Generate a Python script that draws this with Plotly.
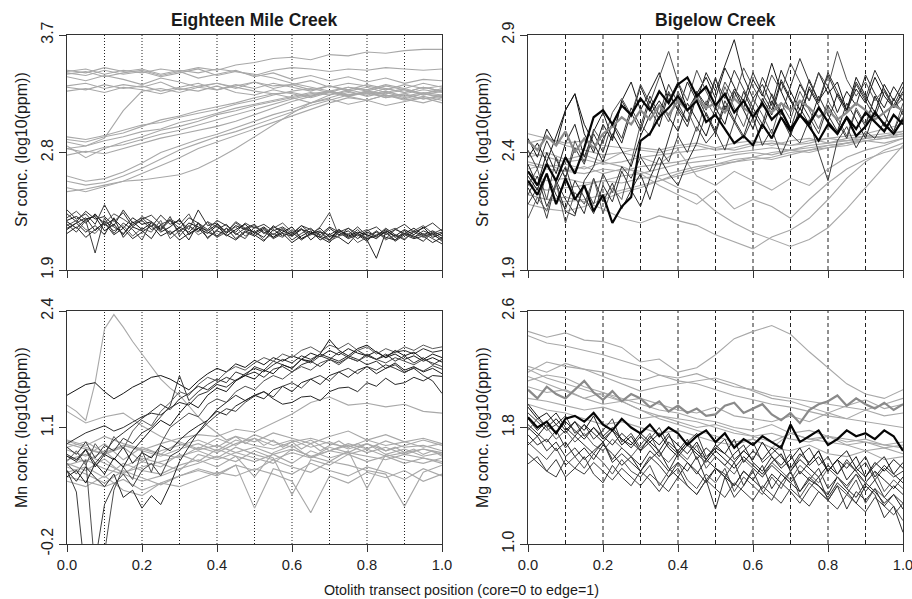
import plotly.graph_objects as go

# ---------------------------------------------------------------
# Data (values typed in hundredths of log10(ppm))
# ---------------------------------------------------------------
UNIT = 0.01

POS41 = [0.0, 0.025, 0.05, 0.075, 0.1, 0.125, 0.15, 0.175, 0.2, 0.225,
         0.25, 0.275, 0.3, 0.325, 0.35, 0.375, 0.4, 0.425, 0.45, 0.475,
         0.5, 0.525, 0.55, 0.575, 0.6, 0.625, 0.65, 0.675, 0.7, 0.725,
         0.75, 0.775, 0.8, 0.825, 0.85, 0.875, 0.9, 0.925, 0.95, 0.975, 1.0]
POS21 = [0.0, 0.05, 0.1, 0.15, 0.2, 0.25, 0.3, 0.35, 0.4, 0.45, 0.5,
         0.55, 0.6, 0.65, 0.7, 0.75, 0.8, 0.85, 0.9, 0.95, 1.0]

X_TICKS = [0.0, 0.2, 0.4, 0.6, 0.8, 1.0]
X_TICK_TEXT = ["0.0", "0.2", "0.4", "0.6", "0.8", "1.0"]
GRID_POS = [0.1, 0.2, 0.3, 0.4, 0.5, 0.6, 0.7, 0.8, 0.9]

PANEL_TITLES = ["Eighteen Mile Creek", "Bigelow Creek"]
Y_TITLES = ["Sr conc. (log10(ppm))", "Sr conc. (log10(ppm))",
            "Mn conc. (log10(ppm))", "Mg conc. (log10(ppm))"]
X_TITLE = "Otolith transect position (core=0 to edge=1)"

Y_TICKS_SR_EMC = [1.9, 2.8, 3.7]
Y_TICKS_SR_BIG = [1.9, 2.4, 2.9]
Y_TICKS_MN_EMC = [-0.2, 1.1, 2.4]
Y_TICKS_MG_BIG = [1.0, 1.8, 2.6]

# ---- Sr, Eighteen Mile Creek ----
SR_EMC_BLACK = [
    [228,231,226,233,224,229,222,230,225,227, 221,228,219,226,223,220,225,218,224,221, 219,223,217,222,216,221,219,215,222,217, 220,214,219,216,221,215,218,222,217,220, 216],
    [233,227,235,229,231,224,236,226,230,223, 232,225,228,221,236,224,226,219,227,222, 225,218,223,220,217,224,218,222,215,220, 217,223,216,219,214,221,218,215,220,217, 219],
    [221,226,219,224,217,230,215,223,220,214, 225,218,222,213,226,219,216,222,214,220, 217,212,221,216,219,213,218,215,211,219, 214,217,212,220,215,213,218,216,212,219, 214],
    [225,219,228,203,230,218,226,221,213,227, 220,231,216,224,219,227,215,222,218,214, 223,219,215,221,213,218,222,216,213,219, 215,221,214,217,219,213,220,215,218,214, 210],
    [230,235,228,232,226,233,229,224,231,227, 222,229,225,233,220,227,223,219,226,221, 224,218,222,226,219,221,217,223,234,216, 222,218,221,215,219,222,217,220,224,218, 221],
    [218,223,215,221,226,217,222,214,219,224, 216,220,213,218,222,215,220,217,213,219, 216,221,214,218,211,216,220,213,217,215, 210,218,213,199,219,212,217,214,216,211, 215],
    [236,229,233,225,240,227,234,223,229,232, 225,228,222,230,226,221,228,224,219,226, 222,225,220,223,218,224,221,217,223,219, 222,216,220,223,217,221,225,219,222,226, 220],
    [224,228,221,218,226,220,224,216,222,219, 228,214,220,224,217,221,215,219,223,216, 220,213,218,215,221,214,217,219,212,216, 218,211,215,220,213,217,214,219,215,217, 213],
    [227,222,229,231,220,225,217,227,221,226, 219,223,229,217,222,218,224,216,221,225, 218,222,215,219,223,214,218,220,213,221, 216,219,217,214,220,216,221,217,223,215, 218],
    [222,226,230,220,227,223,218,225,228,221, 224,217,223,219,226,214,221,225,217,222, 219,215,224,218,216,222,213,219,217,221, 215,218,214,216,222,217,213,220,216,218, 212],
]
SR_EMC_GRAY = [
    [342,344,340,343,341,344,342,345,343,347, 349,352,353,351,355,354,357,356,358,359, 359],
    [343,341,345,342,344,340,343,341,344,342, 339,343,345,344,342,344,343,345,344,343, 344],
    [340,342,338,341,343,339,342,337,340,343, 338,341,336,339,335,338,334,337,333,336, 335],
    [338,335,339,336,332,337,334,330,333,329, 334,331,332,328,331,327,330,326,329,325, 328],
    [330,328,332,329,331,327,330,333,328,331, 334,329,332,335,330,333,331,328,332,329, 331],
    [327,329,326,330,328,325,329,327,331,326, 324,328,325,322,326,323,320,324,321,318, 322],
    [331,333,329,332,330,334,328,331,333,330, 327,325,322,318,321,317,320,316,319,322, 318],
    [341,339,343,340,342,338,341,344,339,342, 340,337,333,330,327,324,326,323,325,321, 324],
    [290,288,292,295,300,305,308,312,315,318, 322,325,326,323,327,324,326,322,325,328, 326],
    [288,285,289,292,296,298,303,306,310,314, 317,320,323,326,324,328,325,329,326,330, 327],
    [285,276,283,288,292,297,300,304,309,312, 316,319,322,325,327,323,326,322,324,321, 323],
    [292,290,293,297,301,303,307,310,313,317, 320,324,327,329,326,330,327,331,328,325, 329],
    [283,280,284,286,290,294,297,301,305,309, 313,317,321,324,326,323,327,324,320,323, 320],
    [283,285,291,312,327,329,326,330,328,332, 329,333,330,327,331,328,332,329,326,330, 327],
    [262,258,260,265,272,280,285,290,294,299, 304,309,313,318,322,326,324,327,323,326, 324],
    [258,255,257,262,268,275,282,287,292,296, 301,306,311,316,320,324,327,325,328,324, 327],
    [253,250,254,258,264,270,276,283,288,293, 298,303,308,313,318,322,320,324,321,325, 322],
    [250,252,255,258,259,261,263,268,275,283, 292,301,310,318,324,327,323,326,322,325, 323],
    [278,281,279,283,287,291,294,297,300,304, 309,314,319,323,327,330,328,332,329,333, 330],
]

# ---- Sr, Bigelow Creek ----
SR_BIG_GRAY = [
    [244,246,243,241,239,240,242,241,243,244, 242,244,245,243,245,246,244,246,247,246, 248],
    [240,238,236,237,235,236,238,239,240,241, 242,241,243,244,243,245,246,245,247,248, 249],
    [235,233,232,231,233,232,234,235,236,238, 239,240,241,242,241,243,244,245,246,247, 248],
    [231,228,229,227,228,230,231,233,235,236, 237,239,240,239,241,242,243,244,245,244, 246],
    [226,224,225,226,228,227,229,230,232,234, 235,237,238,240,241,240,242,243,245,246, 247],
    [222,220,219,220,222,224,226,228,231,233, 235,236,238,237,239,241,242,244,245,246, 247],
    [248,246,244,245,243,242,241,240,242,243, 241,242,244,245,243,244,246,247,248,250, 252],
    [218,216,215,217,220,223,225,228,230,232, 234,236,237,238,240,241,243,244,246,247, 249],
    [233,235,232,234,231,233,232,229,225,222, 215,210,206,203,200,203,208,216,225,234, 243],
    [222,220,221,219,216,212,210,213,211,209, 205,202,199,204,207,212,220,229,236,241, 244],
    [236,234,235,233,236,234,231,226,222,218, 224,216,220,217,212,220,227,233,237,240, 242],
    [238,240,237,239,236,240,238,235,241,230, 226,232,228,224,229,226,233,238,241,243, 246],
]
SR_BIG_BLACK = [
    [238,244,236,247,258,265,248,240,252,245, 262,270,258,266,274,262,270,258,265,272, 263,276,268,259,271,264,278,266,257,269, 262,274,265,270,258,267,261,272,264,259, 266],
    [222,230,217,226,234,221,214,229,219,227, 216,224,231,220,233,246,259,253,266,260, 272,258,267,262,274,265,258,271,263,255, 268,261,273,264,257,269,262,255,266,259, 263],
    [235,226,240,231,244,252,238,249,257,246, 262,255,268,259,251,265,258,270,262,274, 266,277,288,272,263,269,260,275,266,258, 271,262,268,257,266,260,273,265,259,268, 262],
    [218,225,212,228,220,214,226,218,231,223, 234,229,238,232,242,236,247,240,251,244, 249,241,253,246,255,243,250,239,248,244, 254,240,228,245,251,242,249,246,253,248, 255],
    [226,233,220,238,229,245,236,250,244,257, 263,256,269,261,272,283,270,262,275,266, 258,270,263,276,268,261,273,266,278,270, 262,274,268,283,271,264,270,262,267,259, 265],
    [230,224,236,227,215,213,228,234,246,252, 244,257,249,262,254,266,258,251,264,256, 248,260,253,266,257,250,262,255,247,259, 252,264,256,249,261,254,246,258,251,263, 256],
    [241,233,245,237,229,242,235,248,240,253, 246,259,251,264,256,269,261,253,266,258, 271,263,275,267,259,272,264,256,268,280, 270,262,274,266,258,270,263,275,267,260, 268],
    [212,221,215,227,210,223,218,229,214,225, 220,236,252,247,260,253,266,258,249,262, 255,268,259,251,263,256,248,261,254,266, 258,250,262,255,247,259,252,264,256,249, 261],
    [246,238,250,243,258,265,252,244,236,248, 241,234,247,256,262,255,249,261,254,247, 259,252,266,258,250,263,256,270,262,255, 267,260,253,265,258,272,264,257,269,262, 270],
    [225,218,231,222,216,228,221,214,226,219, 232,224,217,229,238,231,226,236,244,257, 249,262,254,247,259,252,265,257,250,262, 255,248,260,253,246,258,251,264,256,249, 258],
]
SR_BIG_THICK_GRAY = [
    [245,241,247,243,249,240,246,242,248,251, 255,252,258,254,260,256,262,258,263,259, 261,257,263,259,256,260,257,261,258,262, 259,255,258,254,257,261,258,254,257,260, 258],
]
SR_BIG_THICK_BLACK = [
    [228,222,231,218,229,220,226,215,222,210, 217,221,245,248,255,259,264,258,262,253, 256,250,244,247,243,252,246,255,249,256, 251,245,252,248,255,247,251,257,252,248, 254],
    [232,226,235,228,238,231,242,255,258,252, 260,256,263,258,266,261,269,272,264,268, 260,265,257,262,255,261,254,258,250,256, 252,259,253,248,255,250,257,253,249,256, 252],
]

# ---- Mn, Eighteen Mile Creek ----
MN_EMC_GRAY = [
    [135,128,118,160,220,236,222,206,192,178, 164,154,146,134,122,112,104,96,100,92, 98,90,96,88,94,86,92,84,90,95, 88,92,86,90,84,88,82,86,80,84, 78],
    [95,88,80,90,85,92,98,102,100,108, 105,115,125,138,144,135,137,133,136,128, 126],
    [128,115,122,126,112,100,92,85,90,82, 88,80,86,78,84,90,82,88,80,86, 82],
    [85,78,92,74,88,80,94,86,98,90, 102,94,88,96,84,92,86,95,88,90, 84],
    [70,62,75,58,72,66,80,72,86,78, 55,82,90,76,88,82,92,80,86,78, 82],
    [92,86,80,88,72,84,90,96,88,100, 94,104,98,92,100,106,96,102,94,98, 92],
    [60,66,54,70,62,58,68,74,66,78, 72,80,70,84,76,82,78,74,80,76, 70],
    [78,72,84,66,76,70,62,80,74,82, 76,70,86,78,72,84,42,80,74,70, 76],
    [66,58,48,62,54,46,56,64,58,68, 62,74,66,60,72,68,62,58,22,60, 68],
    [88,94,82,90,84,78,86,92,84,96, 90,86,94,98,92,88,96,90,94,88, 92],
    [55,50,44,52,40,48,44,52,60,56, 64,58,50,15,56,48,60,54,62,50, 58],
    [74,80,70,60,66,72,78,84,76,88, 80,74,82,76,84,80,86,78,82,86, 80],
    [96,90,100,92,86,80,76,88,82,92, 98,90,96,88,94,86,92,84,90,96, 90],
    [68,74,64,58,50,56,64,70,78,72, 84,76,35,74,68,80,72,78,70,76, 72],
    [50,44,56,40,34,48,56,62,56,68, 20,64,58,70,62,56,66,60,52,64, 56],
]
MN_EMC_BLACK = [
    [146,152,158,160,150,142,148,155,160,166, 168,164,158,152,162,170,176,172,181,177, 185,180,188,184,190,186,193,189,196,191, 198,193,190,195,188,192,186,190,184,188, 183],
    [92,98,104,108,112,106,110,116,122,126, 124,132,138,135,146,150,158,155,163,168, 172,166,175,178,172,180,184,178,186,182, 188,184,192,186,190,194,196,192,198,194, 196],
    [78,72,85,66,80,74,88,70,82,76, 90,84,96,105,112,118,128,124,134,140, 146,142,152,156,150,160,164,158,168,172, 166,174,178,170,176,182,174,178,172,176, 170],
    [62,38,-60,-40,24,46,58,44,62,70, 56,78,84,96,104,115,124,131,128,138, 145,150,144,156,160,154,164,168,162,172, 176,170,178,174,180,176,171,177,173,179, 175],
    [70,58,74,-50,-30,40,66,52,84,60, 92,110,118,126,122,136,142,138,150,156, 152,162,168,164,172,178,174,182,186,180, 188,184,190,186,182,188,184,180,186,182, 178],
    [62,50,66,54,44,58,32,40,20,34, 24,46,72,88,105,118,130,138,146,140, 146,150,142,136,138,144,145,140,150,154, 155,150,160,156,165,158,160,166,162,168, 167],
    [88,80,94,76,90,84,98,92,104,110, 122,134,168,140,150,158,164,160,172,168, 178,174,184,180,176,186,182,190,186,194, 188,196,190,186,192,184,190,182,188,180, 186],
    [72,84,68,92,78,100,86,106,118,112, 128,138,150,146,158,166,162,172,178,174, 182,188,184,192,188,196,200,194,202,198, 204,196,200,192,198,194,200,196,202,198, 200],
    [55,62,48,70,58,76,66,84,96,108, 118,112,126,138,132,146,154,150,162,168, 164,174,170,180,176,186,184,192,208,196, 190,198,202,194,188,196,190,194,186,192, 188],
    [80,74,86,70,82,96,104,112,120,128, 136,130,142,148,156,152,160,166,162,170, 176,172,180,186,182,190,186,192,188,184, 190,186,180,184,176,180,172,176,168,162, 148],
]

# ---- Mg, Bigelow Creek ----
MG_BIG_GRAY = [
    [246,242,245,240,239,235,225,227,218,221, 230,241,246,250,244,232,221,210,203,200, 206],
    [243,238,236,233,230,226,222,216,212,210, 206,202,199,196,194,191,188,186,184,182, 180],
    [218,225,222,220,218,214,212,216,214,217, 212,208,206,202,200,198,196,194,192,196, 200],
    [222,218,224,220,215,210,205,208,210,212, 214,210,205,200,198,194,190,195,199,193, 196],
    [212,216,214,208,204,200,196,192,190,186, 184,180,178,182,176,172,170,168,164,166, 162],
    [208,204,206,200,196,198,192,188,186,184, 180,176,174,170,176,178,174,172,170,168, 166],
    [200,198,195,192,194,190,186,188,184,180, 182,178,174,176,172,170,174,168,170,166, 168],
    [215,210,205,200,204,198,192,186,182,178, 174,170,172,166,176,172,174,170,172,168, 170],
    [196,192,190,186,182,184,180,176,178,174, 170,168,172,166,164,168,162,160,164,158, 160],
    [220,214,210,206,202,198,200,196,192,190, 194,188,186,184,188,184,190,186,192,188, 190],
]
MG_BIG_BLACK = [
    [196,188,180,186,178,184,174,180,172,178, 168,174,164,170,176,166,160,168,162,156, 164,158,152,160,154,148,156,162,150,158, 152,146,154,148,156,150,142,150,144,138, 146],
    [182,176,170,178,166,174,168,162,170,158, 166,160,154,164,158,150,162,156,148,158, 152,146,156,140,152,146,154,148,142,150, 144,152,138,146,140,148,136,144,132,140, 134],
    [175,168,172,164,170,160,166,158,168,162, 154,160,150,158,164,152,146,156,150,142, 152,146,140,150,144,138,148,142,150,136, 144,140,134,146,138,132,142,136,128,134, 124],
    [190,184,178,182,188,176,182,172,178,186, 170,176,166,172,180,168,162,170,176,160, 166,172,158,164,170,156,162,168,150,160, 166,154,160,148,158,150,156,144,152,146, 150],
    [170,164,158,166,154,160,152,162,156,148, 158,150,146,154,140,150,156,144,138,148, 142,152,136,146,140,134,146,138,150,132, 142,136,130,140,134,144,128,138,132,126, 116],
    [186,178,184,190,180,174,182,176,170,178, 172,166,174,168,160,170,164,172,158,166, 160,154,162,168,156,150,160,154,162,148, 156,164,150,158,144,152,160,146,154,148, 142],
    [162,156,150,158,146,152,160,148,142,154, 146,140,150,144,136,146,152,140,134,144, 124,146,132,140,150,136,130,142,136,128, 138,146,130,140,124,136,130,138,126,134, 128],
    [178,186,180,172,178,170,176,168,164,172, 166,160,168,176,162,156,164,158,168,152, 160,154,148,158,152,146,156,150,144,154, 148,142,152,146,138,148,142,150,136,144, 138],
    [194,186,190,182,176,184,178,188,174,180, 172,168,176,170,164,174,168,162,170,158, 166,162,156,164,158,170,160,152,158,166, 154,160,150,158,164,152,146,156,150,158, 152],
    [168,174,164,170,160,166,158,164,170,156, 162,156,150,160,154,146,156,150,160,144, 152,148,140,150,144,154,138,148,142,136, 146,140,132,142,136,128,140,134,118,126, 108],
    [180,174,182,176,184,178,172,180,174,168, 176,170,164,174,168,176,162,170,164,158, 168,162,172,156,164,158,166,160,152,162, 156,164,150,158,152,160,146,154,160,148, 156],
    [155,160,150,146,158,152,148,156,150,144, 152,146,140,148,142,136,146,140,134,144, 138,132,142,136,130,140,134,128,138,132, 126,136,130,124,134,128,122,132,126,120, 128],
]
MG_BIG_THICK_GRAY = [
    [206,200,208,203,200,206,212,204,199,205, 198,203,200,194,198,191,195,190,193,188, 189,195,197,190,193,196,189,185,190,183, 192,196,198,202,195,200,196,193,197,192, 196],
]
MG_BIG_THICK_BLACK = [
    [187,180,184,176,186,188,184,190,182,178, 186,180,176,182,174,180,176,168,174,178, 170,176,166,172,168,174,170,166,182,170, 174,178,168,172,178,174,176,172,178,174, 164],
]

# ---------------------------------------------------------------
# Styling
# ---------------------------------------------------------------
FONT = "Liberation Sans, Arial, Helvetica, sans-serif"
GRAY = "#a8a8a8"
DARKS = ["#151515", "#2e2e2e", "#1f1f1f", "#3c3c3c", "#4e4e4e", "#262626", "#363636", "#5a5a5a"]
THICK_GRAY = "#8a8a8a"
THICK_BLACK = "#050505"
AX_COLOR = "#333333"
H_TEXT = 14.7   # horizontal text size
V_TEXT = 16.0   # rotated text size

fig = go.Figure()


def add_lines(lines, xa, ya, colors, width):
    for i, v in enumerate(lines):
        xs = POS41 if len(v) == len(POS41) else POS21
        fig.add_trace(go.Scatter(
            x=xs[:len(v)], y=[u * UNIT for u in v], mode="lines",
            line=dict(color=colors[i % len(colors)], width=width),
            xaxis=xa, yaxis=ya, hoverinfo="skip", showlegend=False))


add_lines(SR_EMC_GRAY, "x", "y", [GRAY], 1.1)
add_lines(SR_EMC_BLACK, "x", "y", DARKS, 1.0)
add_lines(SR_BIG_GRAY, "x2", "y2", [GRAY], 1.1)
add_lines(SR_BIG_BLACK, "x2", "y2", DARKS, 1.0)
add_lines(SR_BIG_THICK_GRAY, "x2", "y2", [THICK_GRAY], 2.2)
add_lines(SR_BIG_THICK_BLACK, "x2", "y2", [THICK_BLACK], 2.2)
add_lines(MN_EMC_GRAY, "x3", "y3", [GRAY], 1.1)
add_lines(MN_EMC_BLACK, "x3", "y3", DARKS, 1.0)
add_lines(MG_BIG_GRAY, "x4", "y4", [GRAY], 1.1)
add_lines(MG_BIG_BLACK, "x4", "y4", DARKS, 1.0)
add_lines(MG_BIG_THICK_GRAY, "x4", "y4", [THICK_GRAY], 2.2)
add_lines(MG_BIG_THICK_BLACK, "x4", "y4", [THICK_BLACK], 2.2)

W, H = 912, 599
LEFT_DOM = [67 / W, 442 / W]
RIGHT_DOM = [528 / W, 903 / W]
TOP_DOM = [(H - 270) / H, (H - 35) / H]
BOT_DOM = [(H - 544) / H, (H - 311) / H]


def xaxis(domain, anchor, labels):
    return dict(domain=domain, anchor=anchor, range=[0, 1], showgrid=False, zeroline=False,
                automargin=False, showline=True, linecolor=AX_COLOR, linewidth=1, mirror=True,
                ticks="outside", ticklen=7, tickcolor=AX_COLOR, tickwidth=1,
                tickvals=X_TICKS, ticktext=X_TICK_TEXT, showticklabels=labels,
                ticklabeloverflow="allow",
                tickfont=dict(family=FONT, size=H_TEXT, color="#222"))


def yaxis(domain, anchor, rng, ticks):
    return dict(domain=domain, anchor=anchor, range=rng, showgrid=False, zeroline=False,
                automargin=False, showline=True, linecolor=AX_COLOR, linewidth=1, mirror=True,
                ticks="outside", ticklen=7, tickcolor=AX_COLOR, tickwidth=1,
                tickvals=ticks, ticktext=["%.1f" % t for t in ticks], tickangle=-90,
                ticklabeloverflow="allow",
                tickfont=dict(family=FONT, size=V_TEXT, color="#222"))


shapes = []
for xa, ya, dash in [("x", "y", "1px,2px"), ("x2", "y2", "4px,3px"),
                     ("x3", "y3", "1px,2px"), ("x4", "y4", "4px,3px")]:
    for g in GRID_POS:
        shapes.append(dict(type="line", xref=xa, yref=ya + " domain", x0=g, x1=g, y0=0, y1=1,
                           line=dict(color="#222", width=1, dash=dash), layer="below"))


def note(text, px, py, size, angle=0):
    return dict(text=text, x=px / W, y=(H - py) / H, xref="paper", yref="paper",
                xanchor="center", yanchor="middle", textangle=angle, showarrow=False,
                font=dict(family=FONT, size=size, color="#1a1a1a"))


annotations = [
    note("<b>%s</b>" % PANEL_TITLES[0], (67 + 442) / 2, 20, 17.5),
    note("<b>%s</b>" % PANEL_TITLES[1], (528 + 903) / 2, 20, 17.5),
    note(Y_TITLES[0], 21, 150, V_TEXT, -90),
    note(Y_TITLES[1], 482, 150, V_TEXT, -90),
    note(Y_TITLES[2], 21, 428, V_TEXT, -90),
    note(Y_TITLES[3], 482, 428, V_TEXT, -90),
    note(X_TITLE, 461, 590, 14.3),
]

fig.update_layout(
    width=W, height=H, margin=dict(l=0, r=0, t=0, b=0, pad=0),
    paper_bgcolor="white", plot_bgcolor="white", showlegend=False,
    xaxis=xaxis(LEFT_DOM, "y", False), yaxis=yaxis(TOP_DOM, "x", [1.9, 3.7], Y_TICKS_SR_EMC),
    xaxis2=xaxis(RIGHT_DOM, "y2", False), yaxis2=yaxis(TOP_DOM, "x2", [1.9, 2.9], Y_TICKS_SR_BIG),
    xaxis3=xaxis(LEFT_DOM, "y3", True), yaxis3=yaxis(BOT_DOM, "x3", [-0.2, 2.4], Y_TICKS_MN_EMC),
    xaxis4=xaxis(RIGHT_DOM, "y4", True), yaxis4=yaxis(BOT_DOM, "x4", [1.0, 2.6], Y_TICKS_MG_BIG),
    shapes=shapes, annotations=annotations,
)

fig.write_html("out.html", config={"displayModeBar": False},
               post_script="document.body.style.margin='0px';")
